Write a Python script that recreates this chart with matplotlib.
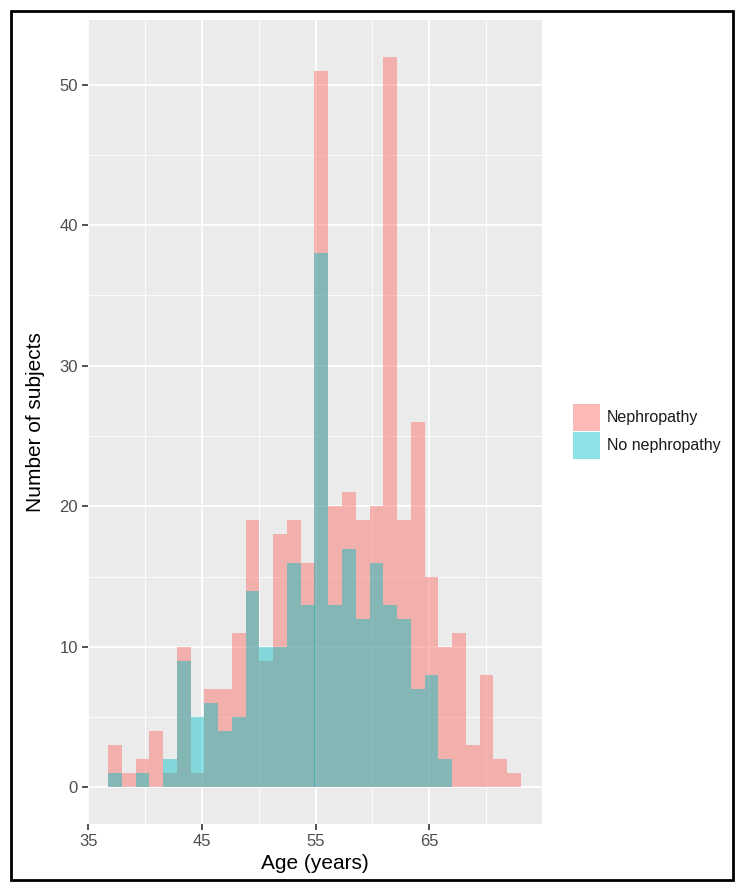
import matplotlib
matplotlib.use("Agg")
import matplotlib.pyplot as plt
from matplotlib.patches import Rectangle
import numpy as np

# histogram bins (30 bins, ggplot default)
bin_start = 36.75
bin_width = 1.21
n_bins = 30

# counts per bin
nephropathy = [3, 1, 2, 4, 1, 10, 1, 7, 7, 11, 19, 9, 18, 19, 16,
               51, 20, 21, 19, 20, 52, 19, 26, 15, 10, 11, 3, 8, 2, 1]
no_nephropathy = [1, 0, 1, 0, 2, 9, 5, 6, 4, 5, 14, 10, 10, 16, 13,
                  38, 13, 17, 12, 16, 13, 12, 7, 8, 2, 0, 0, 0, 0, 0]

labels = ["Nephropathy", "No nephropathy"]
colors = ["#F8766D", "#00BFC4"]
alphas = [0.5, 0.45]

x_ticks = [35, 45, 55, 65]
y_ticks = [0, 10, 20, 30, 40, 50]

edges = bin_start + bin_width * np.arange(n_bins + 1)

plt.rcParams["font.family"] = ["Liberation Sans", "DejaVu Sans"]

W, H = 744, 892
fig = plt.figure(figsize=(W / 100, H / 100), dpi=100)
ax = fig.add_axes([87.5 / W, 1 - 824 / H, (541.5 - 87.5) / W, (824 - 20) / H])

ax.set_facecolor("#EBEBEB")
for s in ax.spines.values():
    s.set_visible(False)

# grid: minor then major
for v in [40, 50, 60, 70]:
    ax.axvline(v, color="white", lw=0.6, zorder=0)
for v in [5, 15, 25, 35, 45]:
    ax.axhline(v, color="white", lw=0.6, zorder=0)
for v in x_ticks:
    ax.axvline(v, color="white", lw=1.3, zorder=0)
for v in y_ticks:
    ax.axhline(v, color="white", lw=1.3, zorder=0)

ax.hist(edges[:-1], bins=edges, weights=nephropathy, color=colors[0],
        alpha=alphas[0], zorder=2, antialiased=False)
ax.hist(edges[:-1], bins=edges, weights=no_nephropathy, color=colors[1],
        alpha=alphas[1], zorder=3, antialiased=False)

span = edges[-1] - edges[0]
ax.set_xlim(edges[0] - 0.05 * span, edges[-1] + 0.05 * span)
ymax = max(max(nephropathy), max(no_nephropathy))
ax.set_ylim(-0.05 * ymax, ymax * 1.05)

ax.set_xticks(x_ticks)
ax.set_yticks(y_ticks)
ax.tick_params(axis="both", colors="#333333", length=4, width=1.2,
               labelsize=12, labelcolor="#4D4D4D", pad=3)

ax.set_xlabel("Age (years)", fontsize=15, labelpad=4)
ax.set_ylabel("Number of subjects", fontsize=15, labelpad=10)

# legend drawn by hand: keys 27 px squares stacked
key = 27
for i, (lab, c, a) in enumerate(zip(labels, colors, alphas)):
    top = 404 + i * (key + 1)
    fig.add_artist(Rectangle((573 / W, 1 - (top + key) / H), key / W, key / H,
                             transform=fig.transFigure, facecolor=c,
                             alpha=a, edgecolor="none"))
    fig.text(607 / W, 1 - (top + key / 2) / H, lab, fontsize=11.5,
             va="center", ha="left", color="#1A1A1A")

# outer black frame
fig.add_artist(Rectangle((10.5 / W, 1 - 879.5 / H),
                         (733 - 10.5) / W, (879.5 - 10.5) / H,
                         transform=fig.transFigure, fill=False,
                         edgecolor="black", lw=2))

fig.savefig("out.png", dpi=100)
